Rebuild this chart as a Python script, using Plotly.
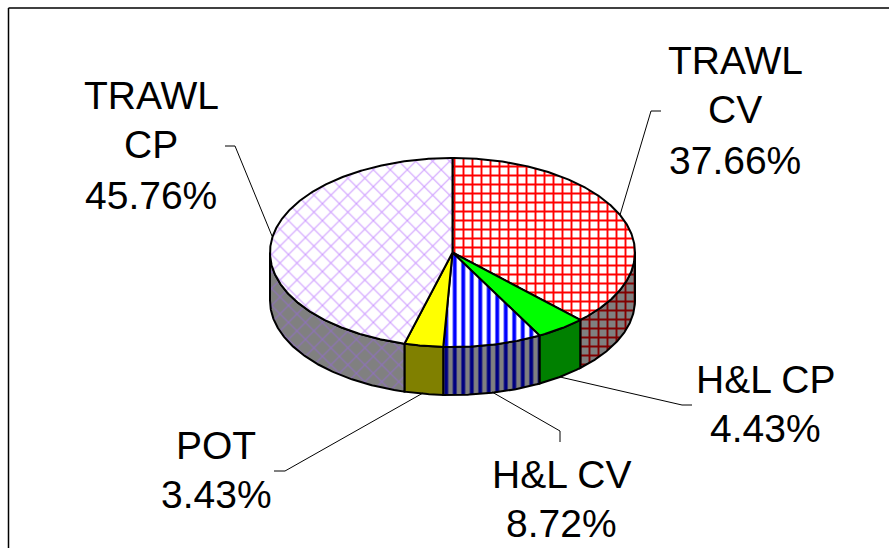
import math
import plotly.graph_objects as go

# Data
categories = ["TRAWL CV", "H&L CP", "H&L CV", "POT", "TRAWL CP"]
label_lines = [["TRAWL", "CV"], ["H&L CP"], ["H&L CV"], ["POT"], ["TRAWL", "CP"]]
values = [37.66, 4.43, 8.72, 3.43, 45.76]

# Styling
top_styles = [
    dict(shape="+", fgcolor="#ff0000", bgcolor="#ffffff", fgopacity=1, size=9, solidity=0.38),
    dict(shape="", fgcolor="#00ff00", bgcolor="#00ff00"),
    dict(shape="|", fgcolor="#0000ff", bgcolor="#ffffff", fgopacity=1, size=8.5, solidity=0.45),
    dict(shape="", fgcolor="#ffff00", bgcolor="#ffff00"),
    dict(shape="x", fgcolor="#cc99ff", bgcolor="#ffffff", fgopacity=1, size=12, solidity=0.16),
]
side_styles = [
    dict(shape="+", fgcolor="#800000", bgcolor="#808080", fgopacity=1, size=9, solidity=0.38),
    dict(shape="", fgcolor="#008000", bgcolor="#008000"),
    dict(shape="|", fgcolor="#000080", bgcolor="#808080", fgopacity=1, size=8.5, solidity=0.45),
    dict(shape="", fgcolor="#808000", bgcolor="#808000"),
    dict(shape="x", fgcolor="#8f70c0", bgcolor="#808080", fgopacity=1, size=12, solidity=0.16),
]
text_xy = [
    (735, [60.5, 109, 160]),
    (765, [379.5, 428.5]),
    (561, [474, 523]),
    (216, [445.5, 494.5]),
    (151, [95, 144, 195]),
]
leaders = [
    ([620, 651, 661], [215, 111, 111]),
    ([560, 682, 692], [377, 405, 405]),
    ([492, 560, 560], [392, 431, 442]),
    ([423, 285, 274], [393, 471, 471]),
    ([272, 235, 225], [236, 146, 146]),
]

CX, CY, RX, RY, DEPTH = 452.5, 252.5, 182.5, 94.5, 48
LINE = dict(color="#000000", width=2)


def arc(a0, a1, dy=0.0):
    n = max(2, int(abs(a1 - a0) * 120))
    pts = [a0 + (a1 - a0) * i / n for i in range(n + 1)]
    return [CX + RX * math.sin(t) for t in pts], [CY - RY * math.cos(t) + dy for t in pts]


fig = go.Figure()

# slice angles, clockwise from 12 o'clock
total = sum(values)
angles = [0.0]
for v in values:
    angles.append(angles[-1] + v / total * 2 * math.pi)

# visible outer wall (lower half of the ellipse)
for i in range(len(values)):
    a0 = max(angles[i], math.pi / 2)
    a1 = min(angles[i + 1], 3 * math.pi / 2)
    if a1 <= a0:
        continue
    x1, y1 = arc(a0, a1)
    x2, y2 = arc(a1, a0, DEPTH)
    fig.add_trace(go.Scatter(
        x=x1 + x2 + x1[:1], y=y1 + y2 + y1[:1], mode="lines", fill="toself",
        fillcolor=side_styles[i]["bgcolor"], fillpattern=side_styles[i], line=LINE,
        hoverinfo="skip", showlegend=False, name=categories[i] + " side",
    ))

# top faces
for i in range(len(values)):
    ax, ay = arc(angles[i], angles[i + 1])
    fig.add_trace(go.Scatter(
        x=[CX] + ax + [CX], y=[CY] + ay + [CY], mode="lines", fill="toself",
        fillcolor=top_styles[i]["bgcolor"], fillpattern=top_styles[i], line=LINE,
        hoverinfo="skip", showlegend=False, name=categories[i],
    ))

# leader lines
for lx, ly in leaders:
    fig.add_trace(go.Scatter(x=lx, y=ly, mode="lines", line=dict(color="#000000", width=1),
                             hoverinfo="skip", showlegend=False))

# labels
annotations = []
for lines, v, (tx, tys) in zip(label_lines, values, text_xy):
    for text, ty in zip(lines + [f"{v:.2f}%"], tys):
        annotations.append(dict(x=tx, y=ty, xref="x", yref="y", text=text, showarrow=False,
                                xanchor="center", yanchor="middle",
                                font=dict(family="Liberation Sans, Arial, sans-serif", size=39, color="#000000")))

# frame: top and left edges only
shapes = [
    dict(type="line", xref="paper", yref="paper", x0=8.5 / 889, x1=1, y0=1 - 8 / 548, y1=1 - 8 / 548,
         line=dict(color="#000000", width=1.5)),
    dict(type="line", xref="paper", yref="paper", x0=8.5 / 889, x1=8.5 / 889, y0=0, y1=1 - 8 / 548,
         line=dict(color="#000000", width=1.5)),
]

fig.update_layout(
    width=889, height=548, margin=dict(l=0, r=0, t=0, b=0),
    paper_bgcolor="#ffffff", plot_bgcolor="#ffffff", showlegend=False,
    xaxis=dict(range=[0, 889], visible=False, fixedrange=True),
    yaxis=dict(range=[548, 0], visible=False, fixedrange=True),
    annotations=annotations, shapes=shapes,
)

fig.write_html("out.html", config={"displayModeBar": False},
               post_script="document.body.style.margin='0';document.body.style.overflow='hidden';")
